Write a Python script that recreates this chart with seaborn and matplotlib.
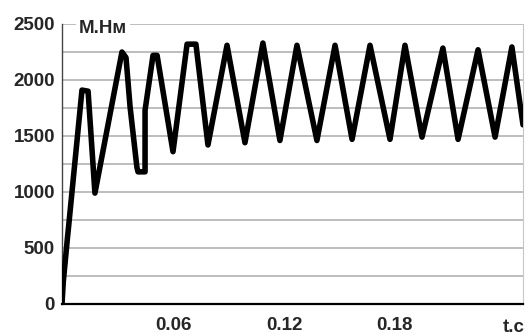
import numpy as np
import pandas as pd
import matplotlib
matplotlib.use("Agg")
import matplotlib.pyplot as plt
import seaborn as sns

sns.set_style("white")
plt.rcParams['font.family'] = ['Liberation Sans', 'DejaVu Sans']

# время, с  /  момент, Н·м
t = [0.0, 0.0007, 0.003, 0.0035, 0.0108, 0.0141, 0.0178, 0.0324, 0.0346,
     0.0368, 0.0405, 0.0411, 0.0449, 0.0449, 0.0492, 0.0514, 0.0600,
     0.0676, 0.0724, 0.0789, 0.0892, 0.0989, 0.1086, 0.1178, 0.1270,
     0.1378, 0.1476, 0.1568, 0.1665, 0.1773, 0.1854, 0.1946, 0.2059,
     0.2141, 0.2249, 0.2341, 0.2432, 0.2492]
M = [0, 200, 600, 680, 1910, 1900, 990, 2250, 2200,
     1760, 1220, 1180, 1180, 1730, 2220, 2220, 1360,
     2320, 2320, 1420, 2310, 1440, 2330, 1460, 2310,
     1460, 2310, 1470, 2310, 1470, 2310, 1490, 2285,
     1470, 2270, 1490, 2295, 1600]

xticks = [0.06, 0.12, 0.18]
xtick_labels = ['0.06', '0.12', '0.18']
yticks = [0, 500, 1000, 1500, 2000, 2500]

df = pd.DataFrame({'t': t, 'M': M})

fig = plt.figure(figsize=(5.31, 3.36), dpi=100)
ax = fig.add_axes([62 / 531, 32 / 336, 461 / 531, 280 / 336])

# сетка через 250
for g in np.arange(250, 2501, 250):
    ax.axhline(g, color='#bdbdbd', lw=1.4, zorder=0)

sns.lineplot(data=df, x='t', y='M', ax=ax, color='black', lw=4.0,
             sort=False, estimator=None, solid_joinstyle='round',
             solid_capstyle='round', zorder=3)

ax.set_xlim(0, 0.2492)
ax.set_ylim(0, 2500)
ax.set_xticks(xticks)
ax.set_xticklabels(xtick_labels, fontsize=13.5, fontweight='bold')
ax.set_yticks(yticks)
ax.set_yticklabels([str(v) for v in yticks], fontsize=13.5, fontweight='bold')
ax.tick_params(axis='x', direction='inout', length=5, width=2, pad=7)
ax.tick_params(axis='y', length=0, pad=5)
ax.set_xlabel('')
ax.set_ylabel('')

ax.spines['top'].set_visible(False)
ax.spines['left'].set_color('#444444')
ax.spines['left'].set_linewidth(1.0)
ax.spines['right'].set_color('#c8c8c8')
ax.spines['right'].set_linewidth(0.8)
ax.spines['bottom'].set_color('black')
ax.spines['bottom'].set_linewidth(1.6)

ax.text(0.009, 2460, 'М.Нм', fontsize=13.5, fontweight='bold', va='center',
        ha='left', zorder=5,
        bbox=dict(facecolor='white', edgecolor='none', pad=2))
ax.text(0.2440, -0.055, 't.c', transform=ax.get_xaxis_transform(),
        fontsize=13.5, fontweight='bold', ha='center', va='top')

fig.savefig('out.png', dpi=100)
